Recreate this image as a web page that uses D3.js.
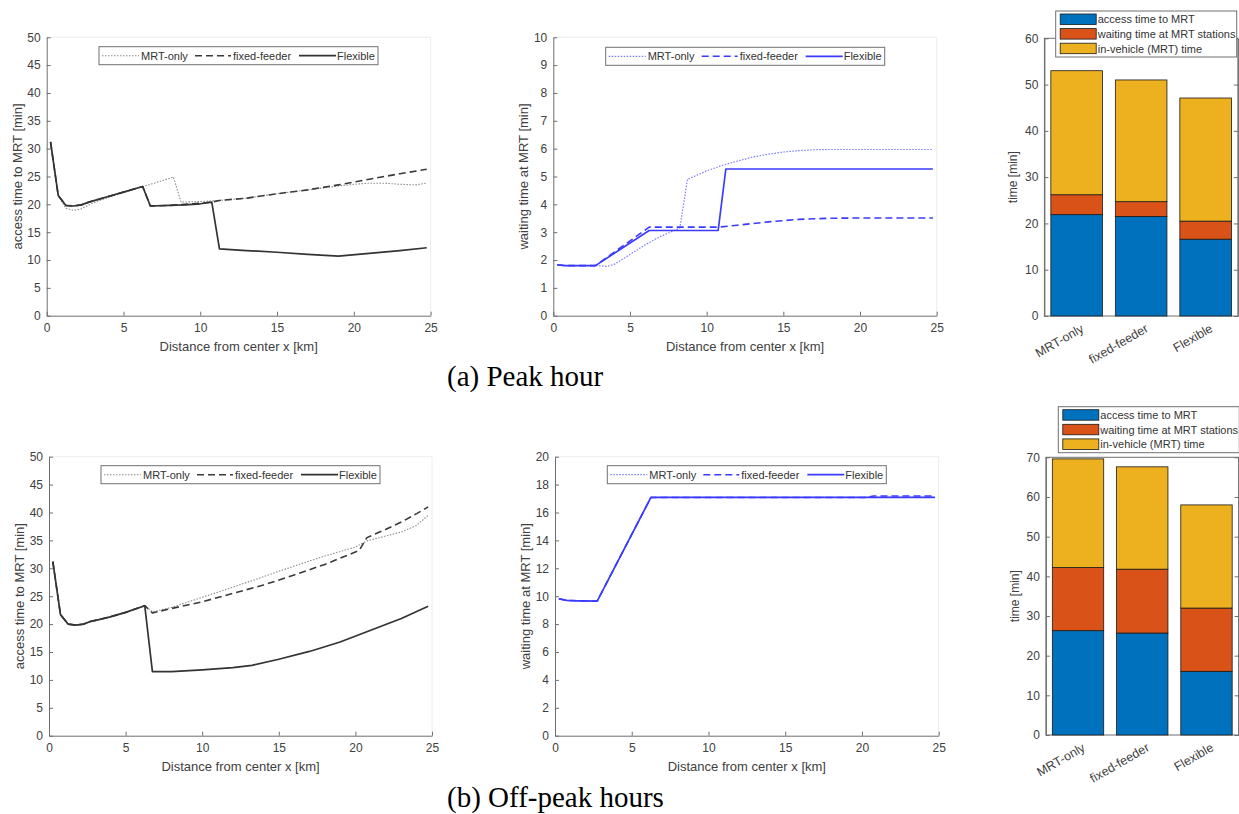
<!DOCTYPE html>
<html>
<head>
<meta charset="utf-8">
<script src="https://cdn.jsdelivr.net/npm/d3@7"></script>
<style>
  html, body { margin: 0; padding: 0; background: #fff; }
  svg { display: block; }
  text { font-family: "Liberation Sans", Arial, sans-serif; }
</style>
</head>
<body>
<svg id="chart" width="1239" height="814"></svg>
<script>
// ---------------- DATA ----------------
const distTicks = [0, 5, 10, 15, 20, 25];
const seriesNames = ["MRT-only", "fixed-feeder", "Flexible"];

// (a) Peak hour - access time to MRT [min]
const peakAccessMRTOnly = [[0.25,31.2],[0.75,21.6],[1.25,19.3],[1.75,18.9],[2.25,19.2],[2.75,19.9],[3.25,20.5],[4,21.2],[5,22.1],[6.25,23.2],[7,23.8],[8.25,24.9],[8.75,20.4],[10,20.5],[11.25,20.7],[13,21.1],[15,21.9],[17,22.6],[19,23.3],[20,23.6],[21,23.8],[22,23.8],[23,23.6],[24,23.5],[24.75,23.8]];
const peakAccessFixed = [[0.25,31.2],[0.75,21.6],[1.25,19.8],[1.75,19.7],[2.25,19.9],[2.75,20.4],[3.25,20.8],[4,21.4],[5,22.2],[6.25,23.2],[6.75,19.7],[8,19.8],[9,20.0],[10,20.2],[10.75,20.4],[11.25,20.7],[13,21.1],[15,21.9],[17,22.6],[19,23.5],[21,24.5],[23,25.5],[24.75,26.3]];
const peakAccessFlexible = [[0.25,31.2],[0.75,21.6],[1.25,19.8],[1.75,19.7],[2.25,19.9],[2.75,20.4],[3.25,20.8],[4,21.4],[5,22.2],[6.25,23.2],[6.75,19.7],[8,19.8],[9,19.9],[10,20.1],[10.75,20.4],[11.25,12.0],[13,11.7],[15,11.4],[17,11.0],[19,10.7],[21,11.2],[23,11.7],[24.75,12.2]];

// (a) Peak hour - waiting time at MRT [min]
const peakWaitMRTOnly = [[0.25,1.83],[0.75,1.8],[2.75,1.8],[3.5,1.77],[4,1.85],[5,2.2],[6,2.55],[7,2.85],[8.25,3.15],[8.75,4.9],[10,5.2],[11,5.4],[12,5.55],[13,5.7],[14,5.8],[15,5.88],[16,5.93],[17,5.96],[18,5.97],[24.75,5.97]];
const peakWaitFixed = [[0.25,1.83],[0.75,1.8],[2.75,1.8],[6.25,3.18],[10.75,3.18],[12,3.25],[14,3.37],[16,3.46],[18,3.5],[20,3.51],[24.75,3.51]];
const peakWaitFlexible = [[0.25,1.83],[0.75,1.8],[2.75,1.8],[6.25,3.06],[10.75,3.06],[11.25,5.27],[24.75,5.27]];

// (b) Off-peak hours - access time to MRT [min]
const offAccessMRTOnly = [[0.25,31.2],[0.75,21.7],[1.25,20.0],[1.75,19.8],[2.25,20.0],[2.75,20.5],[3.25,20.8],[4,21.3],[5,22.1],[6.25,23.3],[6.75,22.2],[8,23.0],[10,24.8],[12,26.6],[14,28.5],[16,30.4],[18,32.2],[20,33.8],[20.75,34.9],[22,35.8],[23,36.5],[24,37.7],[24.75,39.5]];
const offAccessFixed = [[0.25,31.2],[0.75,21.7],[1.25,20.0],[1.75,19.8],[2.25,20.0],[2.75,20.5],[3.25,20.8],[4,21.3],[5,22.1],[6.25,23.3],[6.75,22.0],[8,22.8],[10,24.0],[12,25.5],[14,27.0],[16,28.8],[18,30.7],[20.25,33.2],[20.75,35.5],[22,37.0],[23,38.3],[24,39.8],[24.75,41.0]];
const offAccessFlexible = [[0.25,31.2],[0.75,21.7],[1.25,20.0],[1.75,19.8],[2.25,20.0],[2.75,20.5],[3.25,20.8],[4,21.3],[5,22.1],[6.25,23.3],[6.75,11.5],[8,11.5],[10,11.8],[12,12.2],[13.25,12.6],[15,13.7],[17,15.1],[19,16.8],[21,18.9],[23,21.0],[24.75,23.2]];

// (b) Off-peak hours - waiting time at MRT [min]
const offWaitMRTOnly = [[0.25,9.82],[0.75,9.7],[1.5,9.67],[2.75,9.65],[6.25,17.08],[24.75,17.08]];
const offWaitFixed = [[0.25,9.82],[0.75,9.7],[1.5,9.67],[2.75,9.65],[6.25,17.08],[20.25,17.08],[20.75,17.18],[24.75,17.18]];
const offWaitFlexible = [[0.25,9.82],[0.75,9.7],[1.5,9.67],[2.75,9.65],[6.25,17.08],[24.75,17.08]];

// Stacked bars
const barCategories = ["MRT-only", "fixed-feeder", "Flexible"];
const barComponents = ["access time to MRT", "waiting time at MRT stations", "in-vehicle (MRT) time"];
const peakBarAccess = [21.9, 21.5, 16.6];
const peakBarWaiting = [4.3, 3.2, 3.9];
const peakBarInVehicle = [26.8, 26.3, 26.6];
const offBarAccess = [26.3, 25.7, 16.05];
const offBarWaiting = [15.9, 16.1, 15.95];
const offBarInVehicle = [27.4, 25.8, 26.0];

const captions = ["(a) Peak hour", "(b) Off-peak hours"];

// ---------------- DRAWING ----------------
const svg = d3.select("#chart");
const axisColor = "#6e6e6e";
const textColor = "#404040";

function styleAxis(g) {
  g.selectAll(".domain").attr("stroke", axisColor).attr("stroke-width", 1);
  g.selectAll(".tick line").attr("stroke", axisColor);
  g.selectAll(".tick text").attr("fill", textColor).style("font-size", "12px")
    .style("font-family", '"Liberation Sans", Arial, sans-serif');
}

function linePanel(cfg) {
  const g = svg.append("g");
  const x = d3.scaleLinear().domain([0, 25]).range([cfg.left, cfg.left + cfg.width]);
  const y = d3.scaleLinear().domain([0, cfg.ymax]).range([cfg.top + cfg.height, cfg.top]);

  // faint box
  g.append("path")
    .attr("d", `M${x(0)},${y(cfg.ymax)}H${x(25)}V${y(0)}`)
    .attr("fill", "none").attr("stroke", "#ececec").attr("stroke-width", 1);

  const xa = g.append("g").attr("transform", `translate(0,${y(0)})`)
    .call(d3.axisBottom(x).tickValues(distTicks).tickSizeInner(-4).tickSizeOuter(0).tickPadding(8));
  styleAxis(xa);
  const ya = g.append("g").attr("transform", `translate(${x(0)},0)`)
    .call(d3.axisLeft(y).tickValues(d3.range(0, cfg.ymax + 0.001, cfg.ystep)).tickSizeInner(-4).tickSizeOuter(0).tickPadding(6));
  styleAxis(ya);

  g.append("text")
    .attr("x", x(12.5)).attr("y", y(0) + 35)
    .attr("text-anchor", "middle").attr("fill", textColor).style("font-size", "13px")
    .text("Distance from center x [km]");
  g.append("text")
    .attr("transform", `translate(${cfg.left - 25},${cfg.top + cfg.height / 2}) rotate(-90)`)
    .attr("text-anchor", "middle").attr("fill", textColor).style("font-size", "13px")
    .text(cfg.yLabel);

  const line = d3.line().x(d => x(d[0])).y(d => y(d[1]));
  cfg.series.forEach((s, i) => {
    g.append("path").datum(s)
      .attr("d", line)
      .attr("fill", "none")
      .attr("stroke", cfg.styles[i].color)
      .attr("stroke-width", cfg.styles[i].width)
      .attr("stroke-dasharray", cfg.styles[i].dash)
      .attr("stroke-linejoin", "round");
  });

  // legend
  const lg = g.append("g").attr("transform", `translate(${cfg.left + cfg.legendDx},${cfg.top + cfg.legendDy})`);
  lg.append("rect").attr("width", 279).attr("height", 18)
    .attr("fill", "#fff").attr("stroke", "#707070").attr("stroke-width", 1);
  const offs = [[3, 40, 42], [96, 132, 134], [200, 237, 238]];
  seriesNames.forEach((n, i) => {
    lg.append("line").attr("x1", offs[i][0]).attr("x2", offs[i][1]).attr("y1", 9).attr("y2", 9)
      .attr("stroke", cfg.styles[i].color).attr("stroke-width", cfg.styles[i].width)
      .attr("stroke-dasharray", cfg.styles[i].dash);
    lg.append("text").attr("x", offs[i][2]).attr("y", 13).attr("fill", "#333")
      .style("font-size", "11px").text(n);
  });
}

const grayStyles = [
  { color: "#8a8a8a", width: 1.1, dash: "1.5,1.5" },
  { color: "#3a3a3a", width: 1.6, dash: "7,4" },
  { color: "#333333", width: 1.7, dash: null }
];
const blueStyles = [
  { color: "#7a7aff", width: 1.2, dash: "1.5,1.5" },
  { color: "#3b3bff", width: 1.6, dash: "7,4" },
  { color: "#3b3bff", width: 1.7, dash: null }
];

linePanel({ left: 46.7, top: 37.3, width: 383.9, height: 278.4, ymax: 50, ystep: 5,
  yLabel: "access time to MRT [min]", series: [peakAccessMRTOnly, peakAccessFixed, peakAccessFlexible],
  styles: grayStyles, legendDx: 52.3, legendDy: 9.4 });
linePanel({ left: 553.3, top: 37.3, width: 383.4, height: 278.4, ymax: 10, ystep: 1,
  yLabel: "waiting time at MRT [min]", series: [peakWaitMRTOnly, peakWaitFixed, peakWaitFlexible],
  styles: blueStyles, legendDx: 52.4, legendDy: 10 });
linePanel({ left: 49, top: 456.7, width: 383, height: 279, ymax: 50, ystep: 5,
  yLabel: "access time to MRT [min]", series: [offAccessMRTOnly, offAccessFixed, offAccessFlexible],
  styles: grayStyles, legendDx: 52, legendDy: 9 });
linePanel({ left: 555, top: 456.7, width: 383.7, height: 279, ymax: 20, ystep: 2,
  yLabel: "waiting time at MRT [min]", series: [offWaitMRTOnly, offWaitFixed, offWaitFlexible],
  styles: blueStyles, legendDx: 52.3, legendDy: 9 });

const barColors = ["#0072BD", "#D95319", "#EDB120"];

function barPanel(cfg) {
  const g = svg.append("g");
  const x = d3.scaleLinear().domain([0.5, 3.5]).range([cfg.left, cfg.right]);
  const y = d3.scaleLinear().domain([0, cfg.ymax]).range([cfg.bottom, cfg.top]);
  const stackInput = barCategories.map((c, i) => ({ cat: c, a: cfg.vals[0][i], w: cfg.vals[1][i], v: cfg.vals[2][i] }));
  const stacked = d3.stack().keys(["a", "w", "v"])(stackInput);
  const bw = x(1.4) - x(0.6);

  // box
  g.append("rect").attr("x", x(0.5)).attr("y", y(cfg.ymax))
    .attr("width", x(3.5) - x(0.5)).attr("height", y(0) - y(cfg.ymax))
    .attr("fill", "none").attr("stroke", axisColor).attr("stroke-width", 1);

  stacked.forEach((layer, li) => {
    layer.forEach((d, i) => {
      g.append("rect")
        .attr("x", x(i + 1) - bw / 2).attr("width", bw)
        .attr("y", y(d[1])).attr("height", y(d[0]) - y(d[1]))
        .attr("fill", barColors[li]).attr("stroke", "#1a1a1a").attr("stroke-width", 0.8);
    });
  });

  const ya = g.append("g").attr("transform", `translate(${x(0.5)},0)`)
    .call(d3.axisLeft(y).tickValues(d3.range(0, cfg.ymax + 0.001, 10)).tickSizeInner(-4).tickSizeOuter(0).tickPadding(6));
  styleAxis(ya);
  const ya2 = g.append("g").attr("transform", `translate(${x(3.5)},0)`)
    .call(d3.axisRight(y).tickValues(d3.range(0, cfg.ymax + 0.001, 10)).tickSizeInner(-4).tickSizeOuter(0).tickFormat(""));
  styleAxis(ya2);

  barCategories.forEach((c, i) => {
    g.append("text")
      .attr("transform", `translate(${x(i + 1) + 8},${y(0) + 15}) rotate(-30)`)
      .attr("text-anchor", "end").attr("fill", textColor).style("font-size", "12.5px")
      .text(c);
  });

  g.append("text")
    .attr("transform", `translate(${cfg.left - 27},${(cfg.top + cfg.bottom) / 2}) rotate(-90)`)
    .attr("text-anchor", "middle").attr("fill", textColor).style("font-size", "12px")
    .text("time [min]");

  const lg = g.append("g").attr("transform", `translate(${cfg.legX},${cfg.legY})`);
  lg.append("rect").attr("width", 181).attr("height", 46)
    .attr("fill", "#fff").attr("stroke", "#707070").attr("stroke-width", 1);
  barComponents.forEach((n, i) => {
    lg.append("rect").attr("x", 4.5).attr("y", 3 + i * 14.6).attr("width", 36).attr("height", 10.5)
      .attr("fill", barColors[i]).attr("stroke", "#1a1a1a").attr("stroke-width", 0.8);
    lg.append("text").attr("x", 42).attr("y", 12.3 + i * 14.6).attr("fill", "#333")
      .style("font-size", "11px").text(n);
  });
}

barPanel({ left: 1044.4, right: 1237.9, top: 38.3, bottom: 316, ymax: 60,
  vals: [peakBarAccess, peakBarWaiting, peakBarInVehicle], legX: 1055.7, legY: 11 });
barPanel({ left: 1045.9, right: 1238.6, top: 457.3, bottom: 735, ymax: 70,
  vals: [offBarAccess, offBarWaiting, offBarInVehicle], legX: 1058.3, legY: 406.7 });

svg.append("text").attr("x", 447).attr("y", 386)
  .style("font-family", '"Liberation Serif", "Times New Roman", serif').style("font-size", "29px")
  .attr("fill", "#000").text(captions[0]);
svg.append("text").attr("x", 447).attr("y", 807)
  .style("font-family", '"Liberation Serif", "Times New Roman", serif').style("font-size", "29px")
  .attr("fill", "#000").text(captions[1]);
</script>
</body>
</html>
